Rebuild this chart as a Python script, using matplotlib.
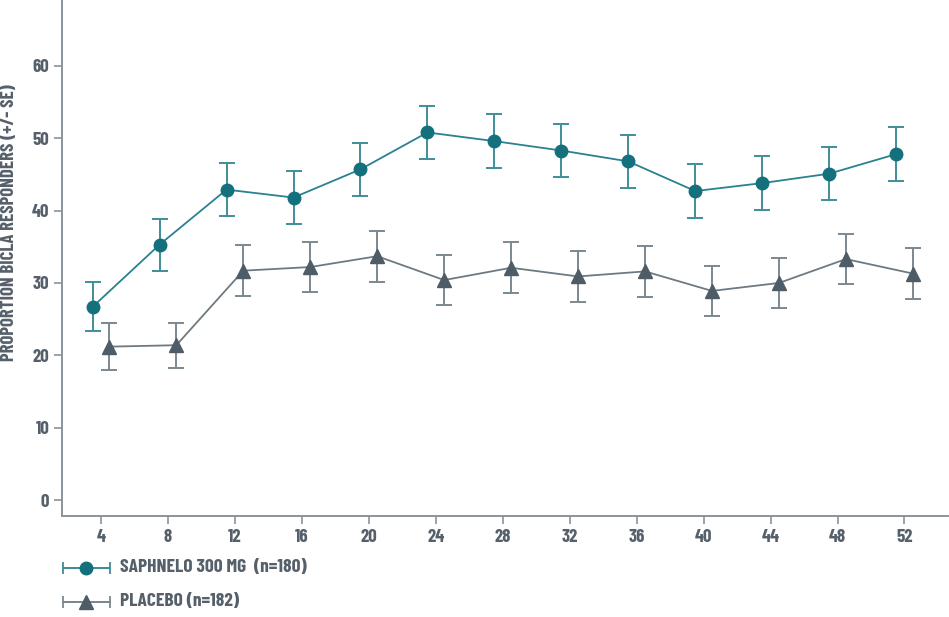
import matplotlib
matplotlib.use("Agg")
import matplotlib.pyplot as plt
from matplotlib import font_manager
from matplotlib.lines import Line2D

# weeks and values
weeks = [4, 8, 12, 16, 20, 24, 28, 32, 36, 40, 44, 48, 52]
saphnelo = [26.7, 35.3, 42.9, 41.8, 45.7, 50.8, 49.6, 48.3, 46.8, 42.7, 43.8, 45.1, 47.8]
saphnelo_se = [3.4, 3.6, 3.7, 3.7, 3.7, 3.7, 3.7, 3.7, 3.7, 3.7, 3.7, 3.7, 3.7]
placebo = [21.2, 21.4, 31.7, 32.2, 33.7, 30.4, 32.1, 30.9, 31.6, 28.9, 30.0, 33.3, 31.3]
placebo_se = [3.2, 3.1, 3.5, 3.5, 3.5, 3.5, 3.5, 3.5, 3.5, 3.4, 3.5, 3.5, 3.5]
y_ticks = [0, 10, 20, 30, 40, 50, 60]

saph_label = "SAPHNELO 300 MG  (n=180)"
plac_label = "PLACEBO (n=182)"
y_label = "PROPORTION BICLA RESPONDERS (+/- SE)"

TEAL = "#15707e"
TEAL_ERR = "#3f8d99"
SLATE = "#4d5c66"
SLATE_LINE = "#6d7a82"
SLATE_ERR = "#7c8890"
AXIS = "#8a949a"
TEXT = "#55606a"

# pick a condensed face if one is installed
installed = {f.name for f in font_manager.fontManager.ttflist}
wanted = ["Barlow Condensed", "Barlow Semi Condensed", "Roboto Condensed",
          "Archivo Narrow", "Liberation Sans Narrow", "Roboto"]
face = next((n for n in wanted if n in installed), "DejaVu Sans")
plt.rcParams["font.family"] = [face, "DejaVu Sans"]

fig = plt.figure(figsize=(9.49, 6.17), dpi=100)
ax = fig.add_axes([62 / 949, 1 - 516 / 617, 886 / 949, 516 / 617])

offset = 0.5
xs = [w - offset for w in weeks]
xp = [w + offset for w in weeks]

ax.errorbar(xs, saphnelo, yerr=saphnelo_se, fmt="none", ecolor=TEAL_ERR,
            elinewidth=1.4, capsize=5.5, capthick=1.4, zorder=2)
ax.plot(xs, saphnelo, color="#2a8190", lw=1.3, marker="o", ms=9,
        mfc=TEAL, mec=TEAL, zorder=3)

ax.errorbar(xp, placebo, yerr=placebo_se, fmt="none", ecolor=SLATE_ERR,
            elinewidth=1.4, capsize=5.5, capthick=1.4, zorder=2)
ax.plot(xp, placebo, color=SLATE_LINE, lw=1.3, marker="^", ms=9.5,
        mfc=SLATE, mec=SLATE, zorder=3)

ax.set_xlim(1.67, 54.6)
ax.set_ylim(-2.2, 69.1)
ax.set_xticks(weeks)
ax.set_yticks(y_ticks)

for s in ["top", "right"]:
    ax.spines[s].set_visible(False)
for s in ["left", "bottom"]:
    ax.spines[s].set_color(AXIS)
    ax.spines[s].set_linewidth(1.4)

ax.tick_params(axis="both", direction="out", length=6, width=1.2, color=AXIS,
               labelcolor=TEXT, labelsize=13.5, pad=3)
for lab in ax.get_xticklabels() + ax.get_yticklabels():
    lab.set_fontweight("bold")

ax.set_ylabel(y_label, color=TEXT, fontsize=13.5, fontweight="bold")
ax.yaxis.set_label_coords(-0.05, 0.568)

# legend drawn by hand below the axes
def legend_entry(y_px, color, err_color, line_color, marker, ms, text):
    y = 1 - y_px / 617
    x0, x1, xm = 63 / 949, 110 / 949, 86 / 949
    fig.add_artist(Line2D([x0, x1], [y, y], color=line_color, lw=1.3,
                          transform=fig.transFigure))
    fig.add_artist(Line2D([x0, x1], [y, y], color=err_color, lw=0, marker="|",
                          ms=9, mew=1.3, transform=fig.transFigure))
    fig.add_artist(Line2D([xm], [y], color=color, lw=0, marker=marker, ms=ms,
                          mfc=color, mec=color, transform=fig.transFigure))
    fig.text(120 / 949, y, text, color=TEXT, fontsize=14, fontweight="bold",
             va="center", ha="left")

legend_entry(568, TEAL, TEAL_ERR, "#2a8190", "o", 9, saph_label)
legend_entry(602, SLATE, SLATE_ERR, SLATE_LINE, "^", 9.5, plac_label)

fig.savefig("out.png", dpi=100)
